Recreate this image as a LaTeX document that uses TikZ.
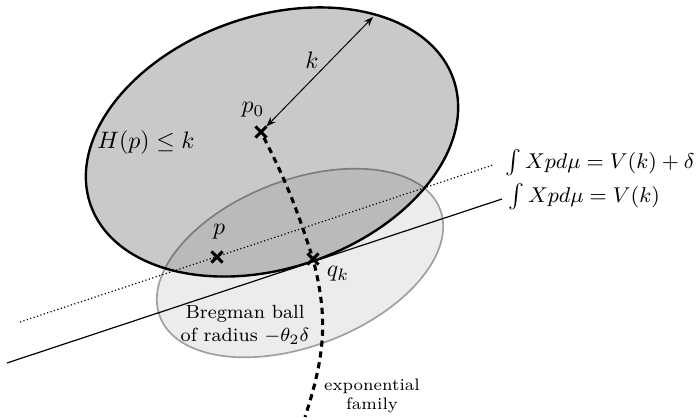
\documentclass[tikz,border=0pt]{standalone}
\usetikzlibrary{arrows.meta,shapes.misc}
\begin{document}
\begin{tikzpicture}[x=0.42pt, y=0.42pt,
  pointmark/.style={draw, cross out, line width=1.3pt, minimum size=3.4pt, inner sep=0pt},
  expfam/.style={line width=1.3pt, dash pattern=on 2.6pt off 2pt},
  eqlabel/.style={font=\small, anchor=west, inner sep=0pt},
  note/.style={align=center}]
\useasboundingbox (0,0) rectangle (696,418);
\coordinate (cbreg) at (300,155);
\coordinate (cbig) at (272,276);
\filldraw[fill=gray!15, draw=gray!75, line width=0.7pt, rotate around={21:(cbreg)}] (cbreg) ellipse [x radius=150, y radius=83];
\filldraw[fill=black, fill opacity=0.21, line width=1pt, rotate around={19:(cbig)}] (cbig) ellipse [x radius=192, y radius=126];
\node[pointmark] (p0) at (261,286) {};
\node[pointmark] (p) at (217,161) {};
\node[pointmark] (qk) at (313,159) {};
\coordinate (rim) at (373,401);
\coordinate (solidA) at (7,55);
\coordinate (solidB) at (502,219);
\coordinate (dotA) at (20,96);
\coordinate (dotB) at (493,253);
\coordinate (famend) at (305,1);
\draw[line width=0.5pt] (solidA) -- (solidB);
\draw[line width=0.5pt, densely dotted] (dotA) -- (dotB);
\draw[expfam] (p0) to[out=-63, in=108] (qk) to[out=-76, in=72] (famend);
\draw[{Stealth[length=4pt]}-{Stealth[length=4pt]}, line width=0.4pt] (p0) -- (rim);
\node (klab) at (312,358) {$k$};
\node (p0lab) at (253,308) {$p_0$};
\node (plab) at (219,186) {$p$};
\node (qklab) at (338,144) {$q_k$};
\node (hlab) at (146,275) {$H(p)\leq k$};
\node[eqlabel] (eqlab) at (508,221) {$\int Xpd\mu=V(k)$};
\node[eqlabel] (eqdlab) at (505,255) {$\int Xpd\mu=V(k)+\delta$};
\node[note, font=\footnotesize] (breglab) at (245,93) {Bregman ball\\of radius $-\theta_2\delta$};
\node[note, font=\scriptsize] (famlab) at (372,22) {exponential\\family};
\end{tikzpicture}
\end{document}
